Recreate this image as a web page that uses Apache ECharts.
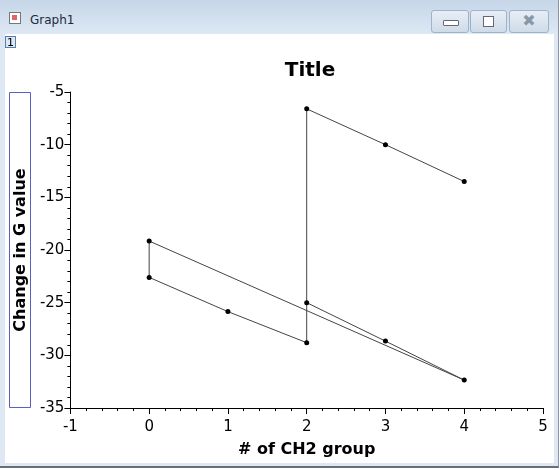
<!DOCTYPE html>
<html>
<head>
<meta charset="utf-8">
<script src="https://cdn.jsdelivr.net/npm/echarts@6/dist/echarts.min.js"></script>
<style>
    body { margin: 0; width: 560px; height: 470px; overflow: hidden; font-family: "DejaVu Sans", sans-serif; }
    .win { position: absolute; left: 0; top: 0; width: 558px; height: 466px;
        background: linear-gradient(#c6d6e8, #dde8f4 34px, #dde8f4);
        border-right: 1px solid #8a96a4; border-bottom: 2px solid #6b6f74; }
    .caption { position: absolute; left: 30px; top: 13px; font-size: 12px; color: #1e2a3a; }
    .icon { position: absolute; left: 9px; top: 12px; width: 10px; height: 10px; border: 1px solid #777; background: #fff; }
    .icon:after { content: ''; position: absolute; left: 2px; top: 2px; width: 5px; height: 5px; background: #d66; }
    .btn { position: absolute; top: 10px; height: 21px; border: 1px solid #9fb2c8; border-radius: 3px;
        background: linear-gradient(#e8eef6, #cfdbe9); }
    .content { position: absolute; left: 5px; top: 34px; width: 549px; height: 429px; background: #fff; }
    .layer { position: absolute; left: 5px; top: 36px; width: 11px; height: 12px; border: 1px solid #5c7fa8;
        background: #dbe8f5; font-size: 11px; line-height: 12px; text-align: center; color: #000; box-sizing: border-box; }
    #chart { position: absolute; left: 5px; top: 34px; width: 549px; height: 429px; }
</style>
</head>
<body>
<div class="win">
    <div class="icon"></div>
    <div class="caption">Graph1</div>
    <div class="btn" style="left:431px;width:36px"><div style="position:absolute;left:11px;top:9px;width:14px;height:4px;border:1px solid #667;background:#fff;border-radius:1px"></div></div>
    <div class="btn" style="left:470px;width:35px"><div style="position:absolute;left:12px;top:5px;width:9px;height:9px;border:1px solid #667;background:#fff"></div></div>
    <div class="btn" style="left:509px;width:38px;text-align:center;font-size:16px;line-height:20px;color:#8a97a6;font-weight:bold">&#x2716;</div>
    <div class="content"></div>
</div>
<div id="chart"></div>
<div class="layer">1</div>
<script>
    // data points in drawing order (worksheet row order)
    let xValues = [2, 3, 4, 0, 0, 1, 2, 2, 3, 4];
    let yValues = [-25.0, -28.65, -32.35, -19.15, -22.6, -25.85, -28.8, -6.6, -10.0, -13.5];

    let chartTitle = 'Title';
    let xName = '# of CH2 group';
    let yName = 'Change in G value';

    let points = xValues.map(function (x, i) {
        return [x, yValues[i]];
    });

    let option = {
        animation: false,
        title: {
            text: chartTitle,
            left: 300,
            textAlign: 'center',
            top: 22,
            textStyle: {fontFamily: 'DejaVu Sans', fontSize: 20, fontWeight: 'bold', color: '#000'}
        },
        grid: {left: 63, right: 11, top: 58, bottom: 55},
        xAxis: {
            type: 'value',
            min: -1,
            max: 5,
            interval: 1,
            name: xName,
            nameLocation: 'middle',
            nameGap: 34,
            nameTextStyle: {fontFamily: 'DejaVu Sans', fontSize: 16, fontWeight: 'bold', color: '#000'},
            axisLine: {show: true, onZero: false, lineStyle: {color: '#000', width: 1}},
            axisTick: {show: true, inside: false, length: 6, lineStyle: {color: '#000'}},
            minorTick: {show: true, splitNumber: 5, length: 3, lineStyle: {color: '#000'}},
            axisLabel: {fontFamily: 'DejaVu Sans', fontSize: 15, color: '#000', margin: 12},
            splitLine: {show: false}
        },
        yAxis: {
            type: 'value',
            min: -35,
            max: -5,
            interval: 5,
            name: yName,
            nameLocation: 'middle',
            nameGap: 40,
            nameRotate: 90,
            nameTextStyle: {fontFamily: 'DejaVu Sans', fontSize: 16, fontWeight: 'bold', color: '#000'},
            axisLine: {show: true, onZero: false, lineStyle: {color: '#000', width: 1}},
            axisTick: {show: true, inside: false, length: 6, lineStyle: {color: '#000'}},
            minorTick: {show: true, splitNumber: 5, length: 3, lineStyle: {color: '#000'}},
            axisLabel: {fontFamily: 'DejaVu Sans', fontSize: 15, color: '#000', margin: 6},
            splitLine: {show: false}
        },
        graphic: [
            {
                type: 'rect',
                shape: {x: 4.5, y: 58.5, width: 21, height: 315},
                style: {fill: 'none', stroke: '#5a5fc0', lineWidth: 1}
            }
        ],
        series: [
            {
                type: 'line',
                data: points,
                symbol: 'circle',
                symbolSize: 5,
                showAllSymbol: true,
                lineStyle: {color: '#444', width: 1},
                itemStyle: {color: '#000'}
            }
        ]
    };

    let chart = echarts.init(document.getElementById('chart'));
    chart.setOption(option);
</script>
</body>
</html>
